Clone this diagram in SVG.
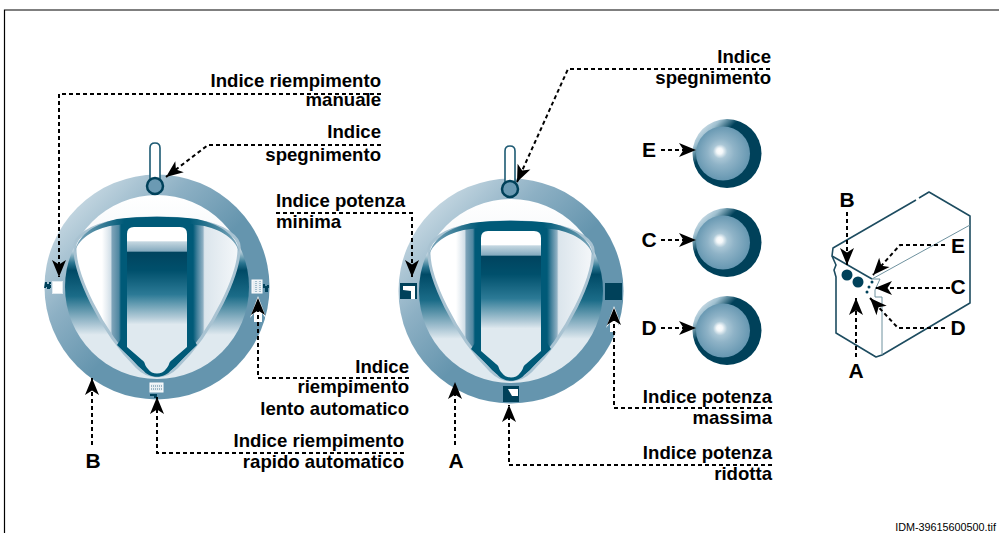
<svg xmlns="http://www.w3.org/2000/svg" width="999" height="533" viewBox="0 0 999 533">
<style>
text{font-family:"Liberation Sans",Arial,sans-serif;font-weight:700;font-size:18.6px;fill:#000}
.e{text-anchor:end}
.big{font-size:21px;text-anchor:middle}
.c{fill:none;stroke:#000;stroke-width:2;stroke-dasharray:4 3;marker-end:url(#ah)}
.box{fill:none;stroke:#1d4c60;stroke-width:1.600;stroke-linejoin:round}
.thin{fill:none;stroke:#6f929f;stroke-width:1}
.dk{fill:#00415a}
</style>
<defs>
<marker id="ah" markerUnits="userSpaceOnUse" markerWidth="20" markerHeight="16" refX="17" refY="7" orient="auto" overflow="visible"><path d="M17 7L0 0 4.500 7 0 14Z" fill="#000" stroke="none"/></marker>
<linearGradient id="ring" gradientUnits="userSpaceOnUse" x1="-95" y1="-95" x2="10" y2="10"><stop offset="0" stop-color="#d3e1e9"/><stop offset=".55" stop-color="#8db0c4"/><stop offset="1" stop-color="#6595ae"/></linearGradient>
<linearGradient id="disc" gradientUnits="userSpaceOnUse" x1="0" y1="-92" x2="0" y2="92"><stop offset="0" stop-color="#fff"/><stop offset=".28" stop-color="#f4f7f9"/><stop offset=".3" stop-color="#c7d9e3"/><stop offset=".37" stop-color="#2a7490"/><stop offset=".41" stop-color="#004a66"/><stop offset=".55" stop-color="#1b6c88"/><stop offset=".7" stop-color="#a7c3d2"/><stop offset=".76" stop-color="#dfe9ef"/><stop offset="1" stop-color="#dfe9ef"/></linearGradient>
<linearGradient id="pick" gradientUnits="userSpaceOnUse" x1="-85" y1="0" x2="85" y2="0"><stop offset="0" stop-color="#fff"/><stop offset=".176" stop-color="#fff"/><stop offset=".206" stop-color="#e6edf2"/><stop offset=".229" stop-color="#d0dee7"/><stop offset=".235" stop-color="#7fa4b9"/><stop offset=".276" stop-color="#4f87a1"/><stop offset=".288" stop-color="#005a78"/><stop offset=".712" stop-color="#005a78"/><stop offset=".735" stop-color="#3f7e99"/><stop offset=".77" stop-color="#8fb0c3"/><stop offset=".78" stop-color="#dbe5ec"/><stop offset="1" stop-color="#f7f9fb"/></linearGradient>
<linearGradient id="panel" gradientUnits="userSpaceOnUse" x1="0" y1="-60" x2="0" y2="90"><stop offset="0" stop-color="#fff"/><stop offset=".09" stop-color="#fff"/><stop offset=".1" stop-color="#c3d6e0"/><stop offset=".16" stop-color="#86abbf"/><stop offset=".17" stop-color="#00445f"/><stop offset=".29" stop-color="#00506c"/><stop offset=".45" stop-color="#2c7a96"/><stop offset=".6" stop-color="#b0c9d6"/><stop offset=".65" stop-color="#dfe9ef"/><stop offset="1" stop-color="#dfe9ef"/></linearGradient>
<linearGradient id="topb" gradientUnits="userSpaceOnUse" x1="-82" y1="0" x2="82" y2="0"><stop offset="0" stop-color="#7fa8bd"/><stop offset=".3" stop-color="#005a78"/><stop offset=".7" stop-color="#005a78"/><stop offset="1" stop-color="#7fa8bd"/></linearGradient>
<linearGradient id="kr" x1="0" y1="0" x2="1" y2="1"><stop offset=".1" stop-color="#dbe6ed"/><stop offset=".21" stop-color="#9fc0d0"/><stop offset=".34" stop-color="#00415a"/><stop offset="1" stop-color="#00415a"/></linearGradient>
<radialGradient id="kd" cx=".5" cy=".5" r=".55" fx=".43" fy=".45"><stop offset="0" stop-color="#fff"/><stop offset=".1" stop-color="#f4f8fa"/><stop offset=".24" stop-color="#abc7d6"/><stop offset=".45" stop-color="#8fb3c7"/><stop offset="1" stop-color="#5f92ad"/></radialGradient>
<g id="dial">
<circle r="112.500" fill="url(#ring)"/>
<circle r="92" fill="url(#disc)"/>
<path d="M-82-38C-84-50-66-62-40-66C-15-70 15-70 40-66C66-62 84-50 82-38C82-14 58 42 20 80C8 92-8 92-20 80C-58 42-82-14-82-38Z" fill="url(#pick)" stroke="#a9c3d2" stroke-width="3"/>
<path d="M-82-35C-80-50-66-62-40-68C-15-71 15-71 40-68C66-62 80-50 82-35C78-50 60-60 40-62C15-64-15-64-40-62C-60-60-78-50-82-35Z" fill="url(#topb)"/>
<path d="M-36-63H36V52L40 58 14 83C8 92-8 92-14 83L-40 58-36 52Z" fill="#005a78"/>
<path d="M-30-53Q-30-60-23-60H23Q30-60 30-53V60L15 73C11 76 13 78 9 82C5 88-5 88-9 82C-13 78-11 76-15 73L-30 60Z" fill="url(#panel)"/>
</g>
<g id="knob"><circle r="34.500" fill="url(#kr)"/><circle cx="-4" cy="0" r="27" fill="url(#kd)"/></g>
</defs>
<rect width="999" height="533" fill="#fff"/>
<path d="M4.500 533V10H999" fill="none" stroke="#000" stroke-width="1.200"/>
<g id="dial-b">
<use href="#dial" x="157" y="287"/>
<path d="M160 180V148Q160 143 155 143Q150 143 150 148V180" fill="#fff" stroke="#1d5a73" stroke-width="1.600"/>
<circle cx="155" cy="186" r="8" fill="#6b9ab3" stroke="#00415a" stroke-width="2.500"/>
<rect x="52.500" y="281.500" width="10" height="12" fill="#fff" stroke="#dfe9ef"/>
<path d="M45 282h2v2h2v-2h2v2h-1v1h1v3h-1v1h-3v-2h-1v1h-2z" fill="#00415a"/>
<rect x="252" y="280" width="10" height="13" fill="#e8eff3" stroke="#fff"/>
<path d="M256 281v11M260 281v11" stroke="#5e8ea6" stroke-width="1" stroke-dasharray="1 1"/>
<path d="M263 284h2v2h2v-1h2v3h-1v4h-3v-4h-2z" fill="#00415a"/>
<rect x="150" y="383" width="13" height="9" fill="#e8eff3" stroke="#fff"/>
<path d="M151 386h11M151 389h11" stroke="#4f7f98" stroke-width="1" stroke-dasharray="1 1"/>
<path d="M150 394h7v4h-3v-2h-4z" fill="#00415a"/>
</g>
<g id="dial-a">
<use href="#dial" x="511" y="291"/>
<path d="M515 183V151Q515 146 510 146Q505 146 505 151V183" fill="#fff" stroke="#1d5a73" stroke-width="1.600"/>
<circle cx="510" cy="189" r="8" fill="#6b9ab3" stroke="#00415a" stroke-width="2.500"/>
<rect x="400" y="283" width="17" height="16" class="dk"/>
<path d="M403 286H415V299H411V291L403 290Z" fill="#fff"/>
<rect x="605" y="283" width="17" height="17" class="dk"/>
<rect x="503" y="386" width="16" height="16" class="dk"/>
<path d="M508 389H518V396H512Z" fill="#fff"/>
</g>
<g id="knob-e"><use href="#knob" x="727" y="153.500"/></g>
<g id="knob-c"><use href="#knob" x="727" y="242.500"/></g>
<g id="knob-d"><use href="#knob" x="727" y="330.500"/></g>
<g id="device">
<path class="box" d="M916 200L833 248 832 256 836 265 834 270 836 277V333L876 357 882 355 970 303V216L929 192 919 198"/>
<path class="box" d="M832 256L872 279"/>
<path class="thin" d="M872 279L970 225M882 297V355"/>
<path class="thin" d="M872 279H880L875 290V297H882"/>
<circle cx="847" cy="275" r="5.500" class="dk"/><circle cx="858" cy="282" r="5.500" class="dk"/>
<circle cx="872" cy="282" r="1.500" class="dk"/><circle cx="869" cy="287" r="1.500" class="dk"/><circle cx="867" cy="292" r="1.500" class="dk"/>
</g>
<g id="connectors">
<path d="M258 296L267 320 262 313V322H254V313L250 318Z" fill="#fff"/>
<path d="M614 306L623 330 618 323V332H610V323L606 328Z" fill="#fff"/>
<path class="c" d="M381 94H59V277"/>
<path class="c" d="M381 145H208L166 177"/>
<path class="c" d="M409 378H258V298"/>
<path class="c" d="M404 453H157V397"/>
<path class="c" d="M92 445V378"/>
<path class="c" d="M276 213H412V277"/>
<path class="c" d="M770 69H568L517 182"/>
<path class="c" d="M772 408H614V308"/>
<path class="c" d="M772 465H509V405"/>
<path class="c" d="M455 445V382"/>
<path class="c" d="M661 150H696"/>
<path class="c" d="M661 240H696"/>
<path class="c" d="M661 328H696"/>
<path class="c" d="M847 212V265"/>
<path class="c" d="M856 357V298"/>
<path class="c" d="M945 245H900L873 275"/>
<path class="c" d="M950 288H875"/>
<path class="c" d="M945 328H898L870 298"/>
</g>
<g id="labels">
<text class="e" x="381" y="87">Indice riempimento</text>
<text class="e" x="381" y="106">manuale</text>
<text class="e" x="381" y="138">Indice</text>
<text class="e" x="381" y="161">spegnimento</text>
<text x="276" y="207">Indice potenza</text>
<text x="276" y="228">minima</text>
<text class="e" x="409" y="373">Indice</text>
<text class="e" x="409" y="393">riempimento</text>
<text class="e" x="409" y="415">lento automatico</text>
<text class="e" x="404" y="447">Indice riempimento</text>
<text class="e" x="404" y="468">rapido automatico</text>
<text class="e" x="771" y="63">Indice</text>
<text class="e" x="771" y="84">spegnimento</text>
<text class="e" x="772" y="403">Indice potenza</text>
<text class="e" x="772" y="424">massima</text>
<text class="e" x="772" y="459">Indice potenza</text>
<text class="e" x="772" y="480">ridotta</text>
<text class="big" x="93" y="468">B</text>
<text class="big" x="456" y="468">A</text>
<text class="big" x="649" y="157">E</text>
<text class="big" x="649" y="247">C</text>
<text class="big" x="649" y="335">D</text>
<text class="big" x="847" y="207">B</text>
<text class="big" x="856" y="378">A</text>
<text class="big" x="958" y="253">E</text>
<text class="big" x="958" y="294">C</text>
<text class="big" x="958" y="335">D</text>
<text x="996" y="530.500" style="font-weight:400;font-size:10.800px;text-anchor:end">IDM-39615600500.tif</text>
</g>
</svg>
